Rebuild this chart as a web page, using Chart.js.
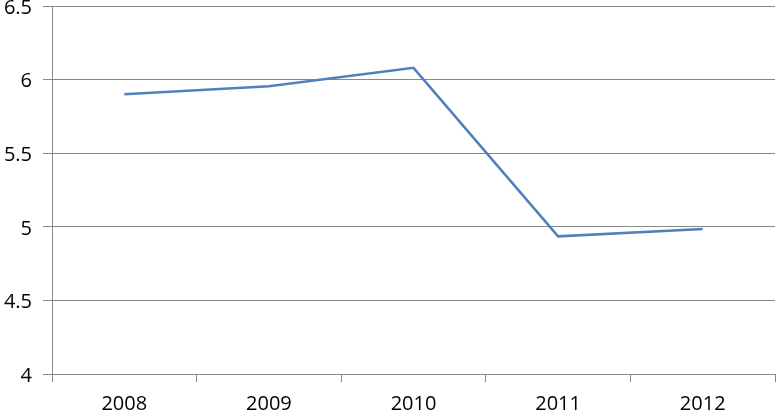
<!DOCTYPE html>
<html>
<head>
<meta charset="utf-8">
<script src="https://cdn.jsdelivr.net/npm/chart.js@4/dist/chart.umd.min.js"></script>
<style>
  html, body { margin: 0; padding: 0; background: #fff; }
  #wrap { width: 776px; height: 413px; }
</style>
</head>
<body>
<div id="wrap"><canvas id="myChart" width="776" height="413"></canvas></div>
<script>
const years = ['2008', '2009', '2010', '2011', '2012'];
const values = [5.90, 5.955, 6.08, 4.935, 4.985];
const yTicks = [4, 4.5, 5, 5.5, 6, 6.5];

const gridColor = '#888888';
const fontFamily = "'Open Sans', sans-serif";

const ctx = document.getElementById('myChart').getContext('2d');
new Chart(ctx, {
  type: 'line',
  data: {
    labels: years,
    datasets: [{
      data: values,
      borderColor: '#4F81BD',
      borderWidth: 2.5,
      pointRadius: 0,
      tension: 0,
      fill: false
    }]
  },
  options: {
    responsive: false,
    animation: false,
    layout: { padding: { top: 6, right: 1, left: 0, bottom: 0 } },
    plugins: { legend: { display: false }, tooltip: { enabled: false } },
    scales: {
      x: {
        offset: true,
        grid: { offset: true, drawOnChartArea: false, drawTicks: true, tickLength: 8, color: gridColor },
        border: { color: gridColor, width: 1 },
        ticks: { color: '#000', font: { family: fontFamily, size: 20 }, padding: 10, maxRotation: 0 },
        afterFit: (scale) => { scale.height = 39; scale.paddingLeft = 0; scale.paddingRight = 0; }
      },
      y: {
        min: 4,
        max: 6.5,
        afterBuildTicks: (scale) => { scale.ticks = yTicks.map(v => ({ value: v })); },
        grid: { color: gridColor, tickLength: 9 },
        border: { color: gridColor, width: 1 },
        ticks: {
          color: '#000',
          font: { family: fontFamily, size: 20 },
          padding: 11,
          labelOffset: 2,
          callback: (v) => String(v)
        },
        afterFit: (scale) => { scale.width = 52; scale.paddingTop = 0; scale.paddingBottom = 0; }
      }
    }
  }
});
</script>
</body>
</html>
